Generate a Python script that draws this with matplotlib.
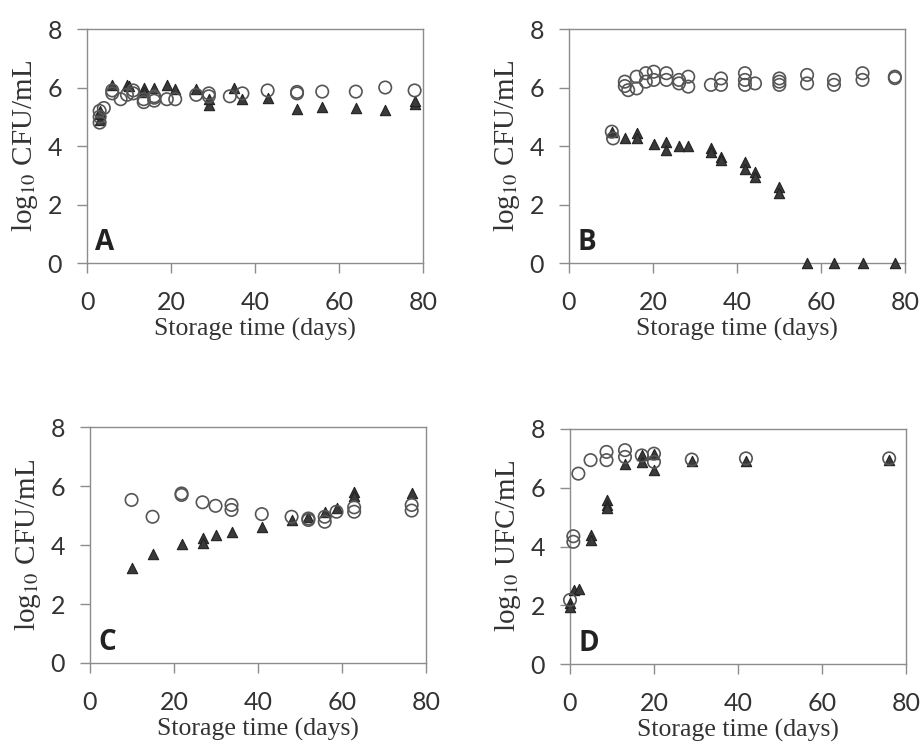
import matplotlib
matplotlib.use('Agg')
import matplotlib.pyplot as plt

plt.rcParams['mathtext.fontset'] = 'stix'

# panel A
a_circ_x = [3, 3, 3, 4, 6, 6, 8, 9.5, 11, 11, 13.5, 13.5, 16, 16, 16, 19, 21, 26, 29, 29, 34, 37, 43, 50, 50, 56, 64, 71, 78]
a_circ_y = [4.8, 5.0, 5.2, 5.3, 5.8, 5.9, 5.6, 5.75, 5.9, 5.8, 5.5, 5.6, 5.55, 5.65, 5.7, 5.6, 5.6, 5.75, 5.7, 5.8, 5.7, 5.8, 5.9, 5.8, 5.85, 5.86, 5.86, 6.0, 5.9]
a_tri_x = [3, 3, 3, 6, 9.5, 10, 13.5, 13.5, 16, 19, 21, 26, 29, 29, 35, 37, 43, 50, 56, 64, 71, 78, 78]
a_tri_y = [4.9, 5.1, 5.2, 6.1, 6.1, 6.05, 6.0, 5.85, 6.0, 6.1, 5.95, 5.95, 5.4, 5.6, 5.97, 5.6, 5.63, 5.25, 5.34, 5.29, 5.23, 5.45, 5.55]

# panel B
b_circ_x = [10.2, 10.5, 13.3, 13.3, 14.1, 16.1, 16.1, 18.3, 18.3, 20.2, 20.2, 23.2, 23.2, 26.2, 26.2, 28.4, 28.4, 33.8, 36.2, 36.2, 41.9, 41.9, 41.9, 44.3, 50.1, 50.1, 50.1, 56.7, 56.7, 63.1, 63.1, 69.9, 69.9, 77.6, 77.6]
b_circ_y = [4.49, 4.26, 6.2, 6.05, 5.91, 6.37, 5.97, 6.49, 6.2, 6.54, 6.26, 6.49, 6.26, 6.26, 6.14, 6.37, 6.03, 6.09, 6.31, 6.09, 6.49, 6.26, 6.09, 6.14, 6.31, 6.2, 6.09, 6.43, 6.14, 6.26, 6.09, 6.49, 6.26, 6.37, 6.32]
b_tri_x = [10.2, 13.3, 16.1, 16.1, 20.2, 23.2, 23.2, 26.2, 28.4, 33.8, 33.8, 36.2, 36.2, 41.9, 41.9, 44.3, 44.3, 50.1, 50.1, 56.7, 63.1, 69.9, 77.6]
b_tri_y = [4.49, 4.26, 4.43, 4.26, 4.07, 4.15, 3.86, 4.0, 4.0, 3.92, 3.8, 3.63, 3.52, 3.46, 3.23, 3.12, 2.95, 2.61, 2.38, 0, 0, 0, 0]

# panel C
c_circ_x = [9.9, 14.9, 21.8, 21.8, 26.8, 29.9, 33.7, 33.7, 40.9, 48.0, 52.0, 52.0, 55.9, 55.9, 58.7, 62.9, 62.9, 76.6, 76.6]
c_circ_y = [5.53, 4.96, 5.75, 5.7, 5.45, 5.33, 5.36, 5.19, 5.05, 4.96, 4.9, 4.85, 4.96, 4.79, 5.13, 5.28, 5.13, 5.36, 5.17]
c_tri_x = [9.9, 14.9, 21.8, 26.8, 26.8, 29.9, 33.7, 40.9, 48.0, 52.0, 55.9, 58.7, 62.9, 62.9, 76.6]
c_tri_y = [3.21, 3.7, 4.04, 4.23, 4.08, 4.34, 4.43, 4.6, 4.85, 4.96, 5.13, 5.24, 5.81, 5.66, 5.77]

# panel D
d_circ_x = [0, 0.8, 0.8, 2.0, 4.9, 8.7, 8.7, 13.1, 13.1, 17.1, 20, 20, 29, 41.9, 76]
d_circ_y = [2.18, 4.35, 4.16, 6.48, 6.94, 7.22, 6.94, 7.28, 7.05, 7.1, 7.16, 6.88, 6.96, 7.0, 7.0]
d_tri_x = [0, 0, 1, 2.2, 4.9, 4.9, 8.7, 8.7, 8.7, 13.1, 17.1, 17.1, 20, 20, 29, 41.9, 76]
d_tri_y = [2.06, 1.95, 2.52, 2.57, 4.39, 4.22, 5.58, 5.41, 5.3, 6.82, 7.1, 6.88, 7.16, 6.6, 6.91, 6.91, 6.94]

panels = [
    ('A', a_circ_x, a_circ_y, a_tri_x, a_tri_y, 'log$_{10}$ CFU/mL', [0.0944, 0.6465, 0.3644, 0.3145]),
    ('B', b_circ_x, b_circ_y, b_tri_x, b_tri_y, 'log$_{10}$ CFU/mL', [0.6171, 0.6465, 0.3644, 0.3145]),
    ('C', c_circ_x, c_circ_y, c_tri_x, c_tri_y, 'log$_{10}$ CFU/mL', [0.0976, 0.1089, 0.3644, 0.3170]),
    ('D', d_circ_x, d_circ_y, d_tri_x, d_tri_y, 'log$_{10}$ UFC/mL', [0.6182, 0.1075, 0.3644, 0.3159]),
]

fig = plt.figure(figsize=(9.22, 7.44), dpi=100)

for letter, cx, cy, tx, ty, ylab, pos in panels:
    ax = fig.add_axes(pos)
    ax.scatter(tx, ty, marker='^', s=55, facecolor='#3a3a3a', edgecolor='#222222',
               linewidth=0.8, zorder=3, clip_on=False)
    ax.scatter(cx, cy, marker='o', s=80, facecolor='none', edgecolor='#555555',
               linewidth=1.2, zorder=4, clip_on=False)
    ax.set_xlim(0, 80)
    ax.set_ylim(0, 8)
    ax.set_xticks([0, 20, 40, 60, 80])
    ax.set_yticks([0, 2, 4, 6, 8])
    for s in ax.spines.values():
        s.set_color('#8c8c8c')
        s.set_linewidth(1.0)
    ax.tick_params(direction='out', length=7, width=1.0, color='#8c8c8c',
                   labelsize=18, labelcolor='#333333')
    ax.tick_params(axis='x', pad=13)
    ax.tick_params(axis='y', pad=11)
    for lab in ax.get_xticklabels() + ax.get_yticklabels():
        lab.set_family('Lato')
    ax.set_xlabel('Storage time (days)', family='Liberation Serif', fontsize=18.5,
                  color='#333333', labelpad=3)
    ax.set_ylabel(ylab, family='Liberation Serif', fontsize=21, color='#333333', labelpad=5)
    ax.text(0.025, 0.055, letter, transform=ax.transAxes, family='Open Sans',
            fontweight='bold', fontsize=20, color='#222222')

fig.savefig('out.png', dpi=100)
